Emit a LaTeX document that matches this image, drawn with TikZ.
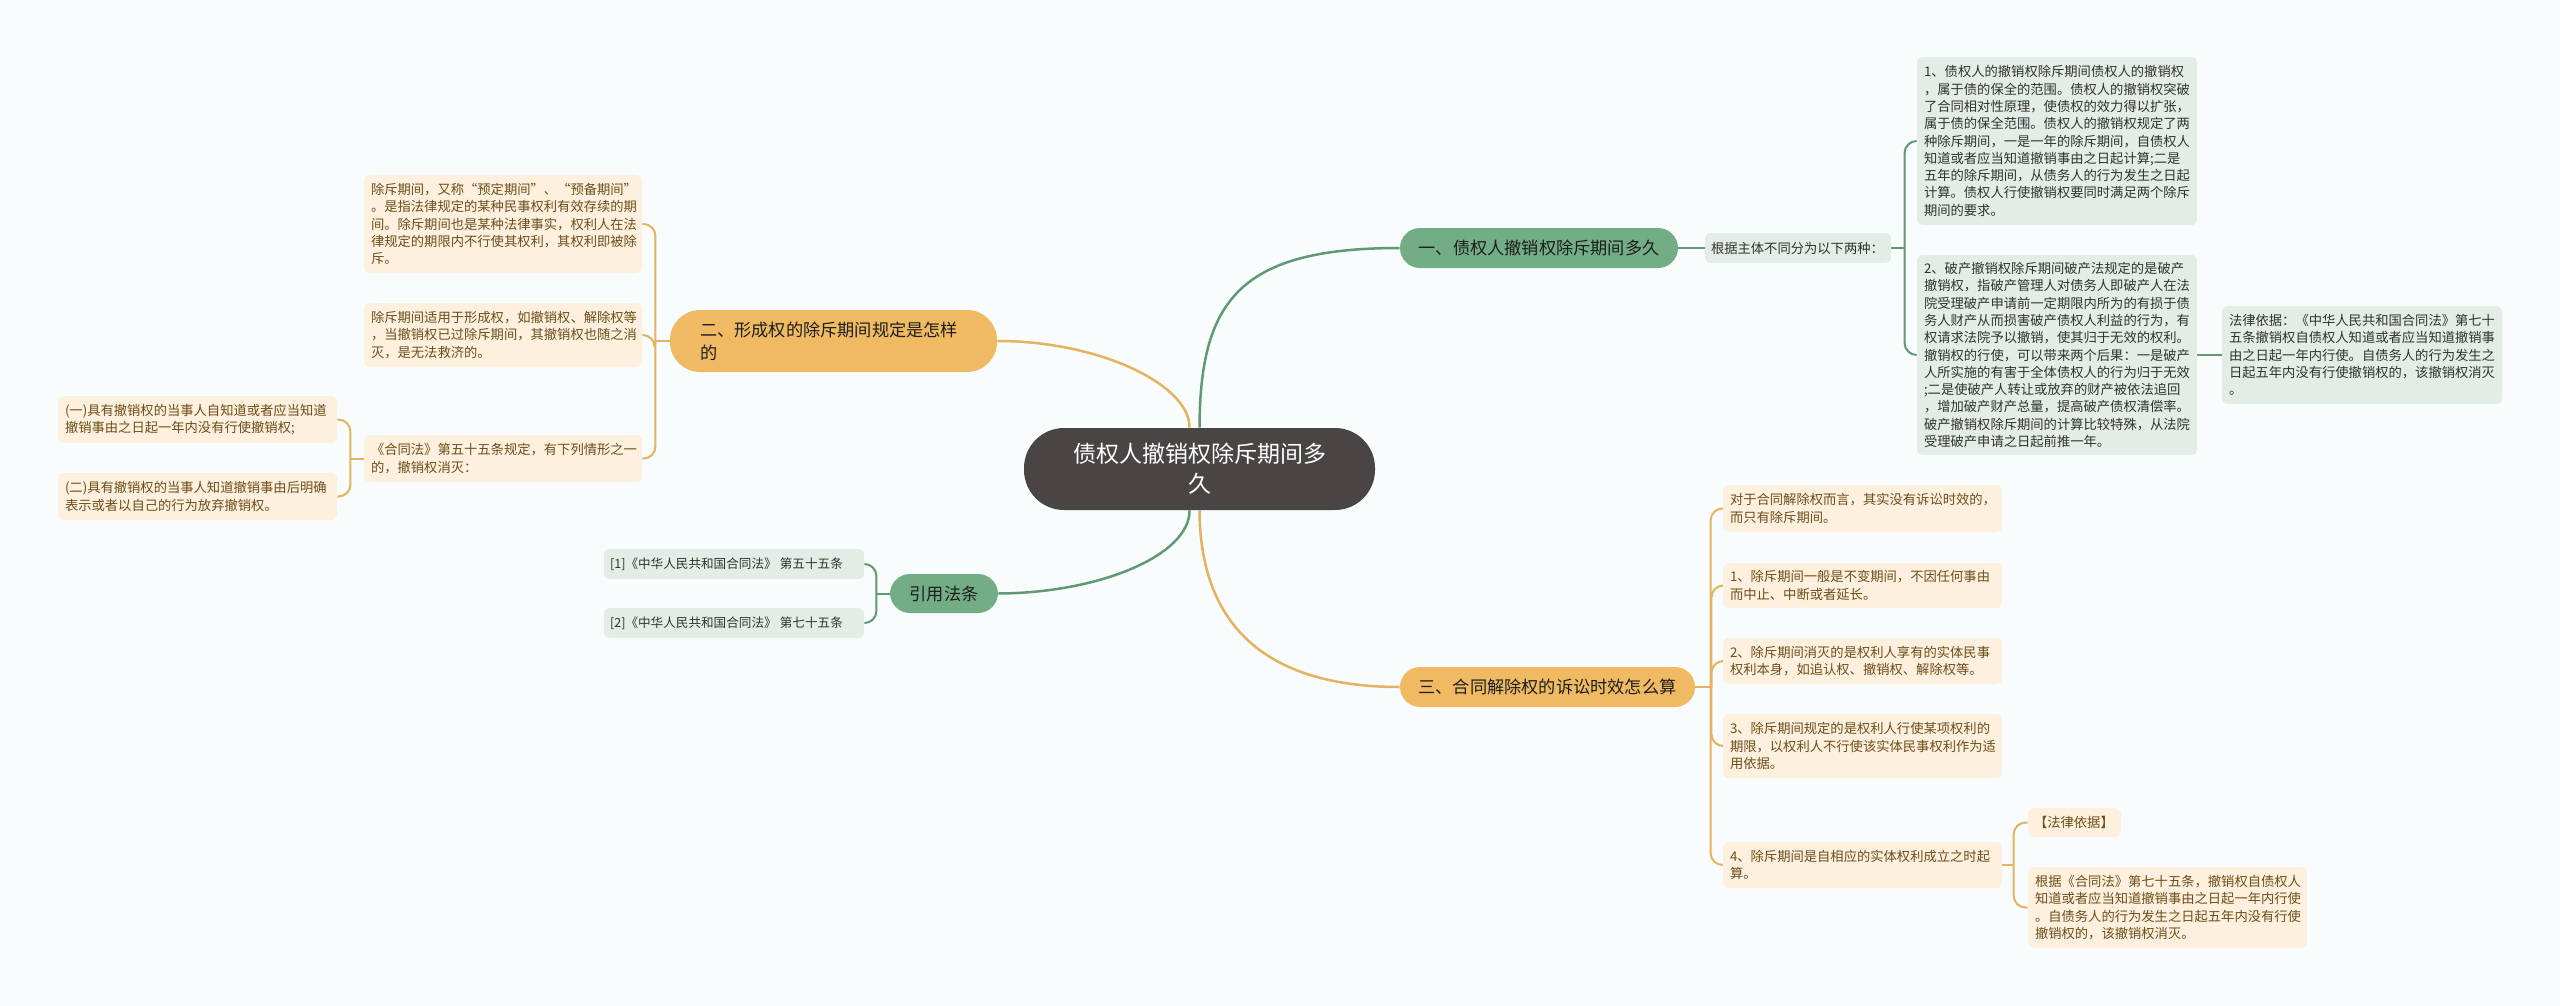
\documentclass[tikz,border=0pt]{standalone}
\usepackage{fontspec}
\setmainfont{Noto Sans CJK SC}
\usetikzlibrary{calc}
\definecolor{bgc}{RGB}{248,252,253}
\definecolor{rootc}{RGB}{74,69,69}
\definecolor{gbr}{RGB}{114,173,133}
\definecolor{obr}{RGB}{240,186,98}
\definecolor{gleaf}{RGB}{227,237,230}
\definecolor{oleaf}{RGB}{253,240,223}
\definecolor{gline}{RGB}{95,154,115}
\definecolor{oline}{RGB}{229,178,94}
\definecolor{gtext}{RGB}{50,50,50}
\definecolor{otext}{RGB}{110,78,25}
\definecolor{brtext}{RGB}{30,30,30}
\pgfdeclarelayer{back}
\pgfdeclarelayer{conn}
\pgfsetlayers{back,conn,main}
\newcommand\mmbox[8]{%
  \pgfmathsetmacro\mmw{(#4-#2)*0.5}%
  \pgfmathsetmacro\mmh{(#5-#3)*0.5}%
  \pgfmathsetmacro\mmt{(#4-#2-2*#7)*0.5}%
  \pgfmathsetmacro\mmp{#7*0.5}%
  \node[#6, minimum width=\mmw pt, minimum height=\mmh pt, text width=\mmt pt, inner xsep=\mmp pt, inner ysep=0pt] (#1) at ({(#2+#4)/2},{(#3+#5)/2}) {#8};}
\tikzset{
  rootbox/.style={fill=rootc, rounded corners=20pt, text=white, align=center, font=\fontsize{11.5pt}{15pt}\selectfont},
  gbranch/.style={fill=gbr, rounded corners=10pt, text=brtext, align=center, font=\fontsize{8.6pt}{11.5pt}\selectfont},
  obranch/.style={fill=obr, rounded corners=10pt, text=brtext, align=center, font=\fontsize{8.6pt}{11.5pt}\selectfont},
  obranchl/.style={fill=obr, rounded corners=15pt, text=brtext, align=left, font=\fontsize{8.6pt}{11.5pt}\selectfont},
  gleafbox/.style={fill=gleaf, rounded corners=3pt, text=gtext, align=left, font=\fontsize{6.65pt}{8.65pt}\selectfont},
  oleafbox/.style={fill=oleaf, rounded corners=3pt, text=otext, align=left, font=\fontsize{6.65pt}{8.65pt}\selectfont},
  citebox/.style={gleafbox, font=\fontsize{6.3pt}{8pt}\selectfont},
  gconn/.style={draw=gline, line width=1pt},
  oconn/.style={draw=oline, line width=1pt},
  gmain/.style={draw=gline, line width=1.25pt},
  omain/.style={draw=oline, line width=1.25pt},
}
\begin{document}
\begin{tikzpicture}[x=0.5pt, y=-0.5pt]
\useasboundingbox (0,0) rectangle (2560,1006);
\begin{pgfonlayer}{back}
\fill[bgc] (0,0) rectangle (2560,1006);
\end{pgfonlayer}

% root
\mmbox{root}{1024}{428}{1375}{510}{rootbox}{20}{债权人撤销权除斥期间多\\久}

% branch 1
\mmbox{br1}{1400}{228}{1678}{268}{gbranch}{10}{一、债权人撤销权除斥期间多久}
\mmbox{gen}{1705}{233}{1891}{263}{gleafbox}{6}{根据主体不同分为以下两种：}
\mmbox{l11}{1917}{57}{2197}{225}{gleafbox}{7}{1、债权人的撤销权除斥期间债权人的撤销权\\，属于债的保全的范围。债权人的撤销权突破\\了合同相对性原理，使债权的效力得以扩张，\\属于债的保全范围。债权人的撤销权规定了两\\种除斥期间，一是一年的除斥期间，自债权人\\知道或者应当知道撤销事由之日起计算;二是\\五年的除斥期间，从债务人的行为发生之日起\\计算。债权人行使撤销权要同时满足两个除斥\\期间的要求。}
\mmbox{l12}{1917}{255}{2197}{455}{gleafbox}{7}{2、破产撤销权除斥期间破产法规定的是破产\\撤销权，指破产管理人对债务人即破产人在法\\院受理破产申请前一定期限内所为的有损于债\\务人财产从而损害破产债权人利益的行为，有\\权请求法院予以撤销，使其归于无效的权利。\\撤销权的行使，可以带来两个后果：一是破产\\人所实施的有害于全体债权人的行为归于无效\\;二是使破产人转让或放弃的财产被依法追回\\，增加破产财产总量，提高破产债权清偿率。\\破产撤销权除斥期间的计算比较特殊，从法院\\受理破产申请之日起前推一年。}
\mmbox{law1}{2222}{306}{2502}{404}{gleafbox}{7}{法律依据：《中华人民共和国合同法》第七十\\五条撤销权自债权人知道或者应当知道撤销事\\由之日起一年内行使。自债务人的行为发生之\\日起五年内没有行使撤销权的，该撤销权消灭\\。}

% branch 3
\mmbox{br3}{1400}{667}{1695}{707}{obranch}{10}{三、合同解除权的诉讼时效怎么算}
\mmbox{o1}{1723}{485}{2002}{532}{oleafbox}{7}{对于合同解除权而言，其实没有诉讼时效的，\\而只有除斥期间。}
\mmbox{o2}{1723}{563}{2002}{608}{oleafbox}{7}{1、除斥期间一般是不变期间，不因任何事由\\而中止、中断或者延长。}
\mmbox{o3}{1723}{638}{2002}{684}{oleafbox}{7}{2、除斥期间消灭的是权利人享有的实体民事\\权利本身，如追认权、撤销权、解除权等。}
\mmbox{o4}{1723}{714}{2002}{778}{oleafbox}{7}{3、除斥期间规定的是权利人行使某项权利的\\期限，以权利人不行使该实体民事权利作为适\\用依据。}
\mmbox{o5}{1723}{842}{2002}{888}{oleafbox}{7}{4、除斥期间是自相应的实体权利成立之时起\\算。}
\mmbox{o5a}{2028}{808}{2121}{837}{oleafbox}{6}{【法律依据】}
\mmbox{o5b}{2028}{867}{2307}{948}{oleafbox}{7}{根据《合同法》第七十五条，撤销权自债权人\\知道或者应当知道撤销事由之日起一年内行使\\。自债务人的行为发生之日起五年内没有行使\\撤销权的，该撤销权消灭。}

% branch 2
\mmbox{br2}{670}{310}{997}{372}{obranchl}{30}{二、形成权的除斥期间规定是怎样\\的}
\mmbox{b2a}{364}{175}{642}{273}{oleafbox}{7}{除斥期间，又称“预定期间”、“预备期间”\\。是指法律规定的某种民事权利有效存续的期\\间。除斥期间也是某种法律事实，权利人在法\\律规定的期限内不行使其权利，其权利即被除\\斥。}
\mmbox{b2b}{364}{303}{642}{367}{oleafbox}{7}{除斥期间适用于形成权，如撤销权、解除权等\\，当撤销权已过除斥期间，其撤销权也随之消\\灭，是无法救济的。}
\mmbox{b2c}{364}{435}{642}{482}{oleafbox}{7}{《合同法》第五十五条规定，有下列情形之一\\的，撤销权消灭：}
\mmbox{b2c1}{58}{396}{337}{443}{oleafbox}{7}{(一)具有撤销权的当事人自知道或者应当知道\\撤销事由之日起一年内没有行使撤销权;}
\mmbox{b2c2}{58}{473}{337}{520}{oleafbox}{7}{(二)具有撤销权的当事人知道撤销事由后明确\\表示或者以自己的行为放弃撤销权。}

% cite
\mmbox{cite}{890}{574}{998}{613}{gbranch}{8}{引用法条}
\mmbox{c1}{604}{549}{864}{579}{citebox}{6}{[1]《中华人民共和国合同法》\kern0.25em 第五十五条}
\mmbox{c2}{604}{608}{864}{638}{citebox}{6}{[2]《中华人民共和国合同法》\kern0.25em 第七十五条}

\begin{pgfonlayer}{conn}
% main curves
\draw[gmain] (root.north) .. controls (1200,300) and (1240,248) .. (br1.west);
\draw[omain] ([xshift=-5pt]root.north) .. controls (1190,385) and (1100,341) .. (br2.east);
\draw[omain] (root.south) .. controls (1200,620) and (1260,687) .. (br3.west);
\draw[gmain] ([xshift=-5pt]root.south) .. controls (1190,555) and (1100,593) .. (cite.east);

% branch 1 connectors
\draw[gconn] (br1.east) -- (gen.west);
\draw[gconn] (gen.east) -- ++(14,0);
\draw[gconn, rounded corners=6pt] (l11.west) -- ++(-12,0) |- (l12.west);
\draw[gconn] (l12.east) -- (law1.west);

% branch 3 connectors
\draw[oconn] (br3.east) -- ++(16,0);
\draw[oconn, rounded corners=6pt] (o1.west) -- ++(-12,0) |- (o5.west);
\draw[oconn, rounded corners=6pt] ([xshift=8pt]br3.east) |- (o2.west);
\draw[oconn, rounded corners=6pt] ([xshift=8pt]br3.east) |- (o3.west);
\draw[oconn, rounded corners=6pt] ([xshift=8pt]br3.east) |- (o4.west);
\draw[oconn] (o5.east) -- ++(12,0);
\draw[oconn, rounded corners=6pt] (o5a.west) -- ++(-14,0) |- (o5b.west);

% branch 2 connectors
\draw[oconn] (br2.west) -- ++(-15,0);
\draw[oconn, rounded corners=6pt] (b2a.east) -- ++(13,0) |- (b2c.east);
\draw[oconn, rounded corners=6pt] ([xshift=-7.5pt]br2.west) |- (b2b.east);
\draw[oconn] (b2c.west) -- ++(-13,0);
\draw[oconn, rounded corners=6pt] (b2c1.east) -- ++(13,0) |- (b2c2.east);

% cite connectors
\draw[gconn] (cite.west) -- ++(-14,0);
\draw[gconn, rounded corners=6pt] (c1.east) -- ++(12,0) |- (c2.east);
\end{pgfonlayer}
\end{tikzpicture}
\end{document}
